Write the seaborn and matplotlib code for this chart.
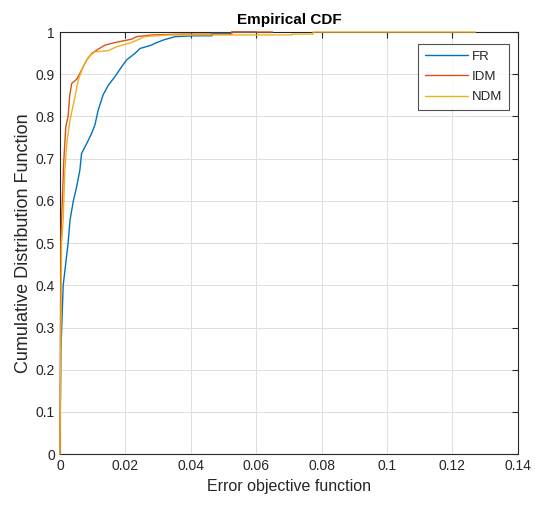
import numpy as np
import pandas as pd
import matplotlib
matplotlib.use('Agg')
import matplotlib.pyplot as plt
import seaborn as sns

# Curve points (error value, cumulative probability)
fr_x = [0, 0.0003, 0.001, 0.0025, 0.0031, 0.0041, 0.0051, 0.0061, 0.0066, 0.0082,
        0.0097, 0.0107, 0.0117, 0.0132, 0.0148, 0.0168, 0.0189, 0.0204, 0.0229, 0.0245,
        0.028, 0.029, 0.0316, 0.0352, 0.0407, 0.0465, 0.0465, 0.0525, 0.0525, 0.06]
fr_y = [0, 0.246, 0.40, 0.50, 0.555, 0.60, 0.633, 0.673, 0.712, 0.736,
        0.760, 0.78, 0.815, 0.851, 0.874, 0.894, 0.918, 0.934, 0.949, 0.961,
        0.969, 0.973, 0.981, 0.989, 0.991, 0.991, 0.997, 0.997, 1.0, 1.0]

idm_x = [0, 0.0003, 0.0005, 0.0012, 0.0018, 0.0025, 0.003, 0.0036, 0.0051, 0.0061,
         0.0082, 0.0097, 0.0112, 0.0138, 0.0168, 0.0219, 0.0234, 0.028, 0.0376, 0.0525,
         0.0525, 0.065]
idm_y = [0, 0.50, 0.555, 0.697, 0.776, 0.80, 0.85, 0.878, 0.888, 0.902,
         0.934, 0.949, 0.957, 0.969, 0.975, 0.983, 0.989, 0.993, 0.995, 0.995,
         1.0, 1.0]

ndm_x = [0, 0.0005, 0.001, 0.0015, 0.0022, 0.0031, 0.0046, 0.0056, 0.0071, 0.0087,
         0.0107, 0.0148, 0.0173, 0.0219, 0.026, 0.0275, 0.0335, 0.0709, 0.0709, 0.0774,
         0.0774, 0.127]
ndm_y = [0, 0.50, 0.555, 0.673, 0.744, 0.791, 0.847, 0.886, 0.918, 0.941,
         0.953, 0.956, 0.965, 0.975, 0.989, 0.99, 0.993, 0.993, 0.995, 0.995,
         1.0, 1.0]

methods = ['FR', 'IDM', 'NDM']
colors = ['#0072BD', '#D95319', '#EDB120']
color_dict = dict(zip(methods, colors))

frames = []
for name, xs, ys in zip(methods, [fr_x, idm_x, ndm_x], [fr_y, idm_y, ndm_y]):
    frames.append(pd.DataFrame({'error': xs, 'cdf': ys, 'method': name}))
df = pd.concat(frames, ignore_index=True)

sns.set_style('white')
plt.rcParams['font.family'] = ['Liberation Sans', 'DejaVu Sans']

fig = plt.figure(figsize=(5.35, 5.08), dpi=100, facecolor='w')
ax = fig.add_axes([0.112, 0.106, 0.856, 0.831])

sns.lineplot(ax=ax, data=df, x='error', y='cdf', hue='method', palette=color_dict,
             sort=False, estimator=None, units='method', linewidth=1.0, legend=False)
# let the lines sitting on y = 1 show above the box, as in the original
for line in ax.get_lines():
    line.set_clip_on(False)
    line.set_zorder(3)

ax.set_xlim(0, 0.14)
ax.set_ylim(0, 1)
ax.set_xticks(np.arange(0, 0.141, 0.02))
ax.set_xticklabels(['0', '0.02', '0.04', '0.06', '0.08', '0.1', '0.12', '0.14'])
ax.set_yticks(np.arange(0, 1.01, 0.1))
ax.set_yticklabels(['0', '0.1', '0.2', '0.3', '0.4', '0.5', '0.6', '0.7', '0.8', '0.9', '1'])
ax.grid(True, color='#dfdfdf', linewidth=0.7)
ax.tick_params(direction='in', top=True, right=True, length=4, labelsize=10, colors='#262626')
for side in ax.spines.values():
    side.set_color('#262626')
    side.set_linewidth(0.8)

ax.set_title('Empirical CDF', fontweight='bold', fontsize=11, color='black', pad=6)
ax.set_xlabel('Error objective function', fontsize=11.5, color='#262626', labelpad=4)
ax.set_ylabel('Cumulative Distribution Function', fontsize=13, color='#262626', labelpad=3)

handles = [plt.Line2D([], [], color=c, linewidth=1.0) for c in colors]
leg = ax.legend(handles, methods, loc='upper right', bbox_to_anchor=(0.981, 0.972),
                borderaxespad=0, fontsize=9.5, frameon=True, fancybox=False,
                edgecolor='#262626', handlelength=3.3, handletextpad=0.3,
                borderpad=0.5, labelspacing=0.62)
leg.get_frame().set_linewidth(0.8)

fig.savefig('out.png', dpi=100)
